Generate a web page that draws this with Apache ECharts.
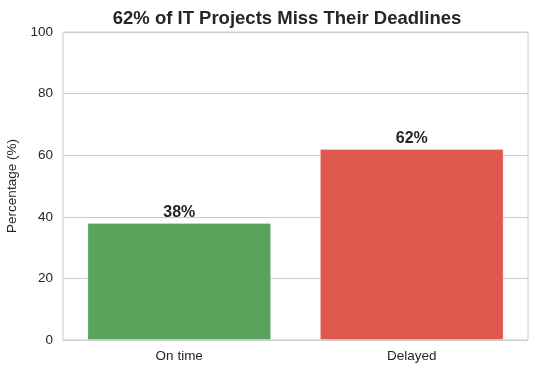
<!DOCTYPE html>
<html><head><meta charset="utf-8">
<script src="https://cdn.jsdelivr.net/npm/echarts@6/dist/echarts.min.js"></script>
<style>html,body{margin:0;padding:0;background:#fff}#c{width:537px;height:374px}</style>
</head><body><div id="c"></div>
<script>
const categories = ['On time', 'Delayed'];
const values = [38, 62];
const barColors = ['#59a45c', '#df584e'];
const yTicks = [0, 20, 40, 60, 80, 100];

const chart = echarts.init(document.getElementById('c'), null, {renderer: 'canvas'});
chart.setOption({
  animation: false,
  backgroundColor: '#ffffff',
  textStyle: {fontFamily: 'Liberation Sans, Arial, sans-serif'},
  title: {
    text: '62% of IT Projects Miss Their Deadlines',
    left: 282, top: 4, textAlign: 'center',
    textStyle: {fontSize: 18.5, fontWeight: 'bold', color: '#262626', fontFamily: 'Liberation Sans, Arial, sans-serif'}
  },
  grid: {left: 63, right: 9, top: 32, bottom: 34, show: true, borderColor: '#cccccc', borderWidth: 1,
         containLabel: false, outerBoundsMode: 'none'},
  xAxis: {
    type: 'category', data: categories,
    axisLine: {show: false}, axisTick: {show: false},
    axisLabel: {color: '#262626', fontSize: 13.5, margin: 9}
  },
  yAxis: {
    type: 'value', min: yTicks[0], max: yTicks[yTicks.length - 1], interval: 20,
    name: 'Percentage (%)', nameLocation: 'middle', nameGap: 38,
    nameTextStyle: {color: '#262626', fontSize: 13.5},
    axisLine: {show: false}, axisTick: {show: false},
    axisLabel: {color: '#262626', fontSize: 13.5, margin: 10},
    splitLine: {lineStyle: {color: '#cccccc', width: 1}}
  },
  series: [{
    type: 'bar',
    barWidth: '79%',
    data: values.map((v, i) => ({value: v, itemStyle: {color: barColors[i], borderColor: 'rgba(255,255,255,0.25)', borderWidth: 1}})),
    label: {
      show: true, position: 'top', distance: 2,
      formatter: p => p.value + '%',
      fontSize: 16, fontWeight: 'bold', color: '#262626'
    }
  }]
});
</script></body></html>
